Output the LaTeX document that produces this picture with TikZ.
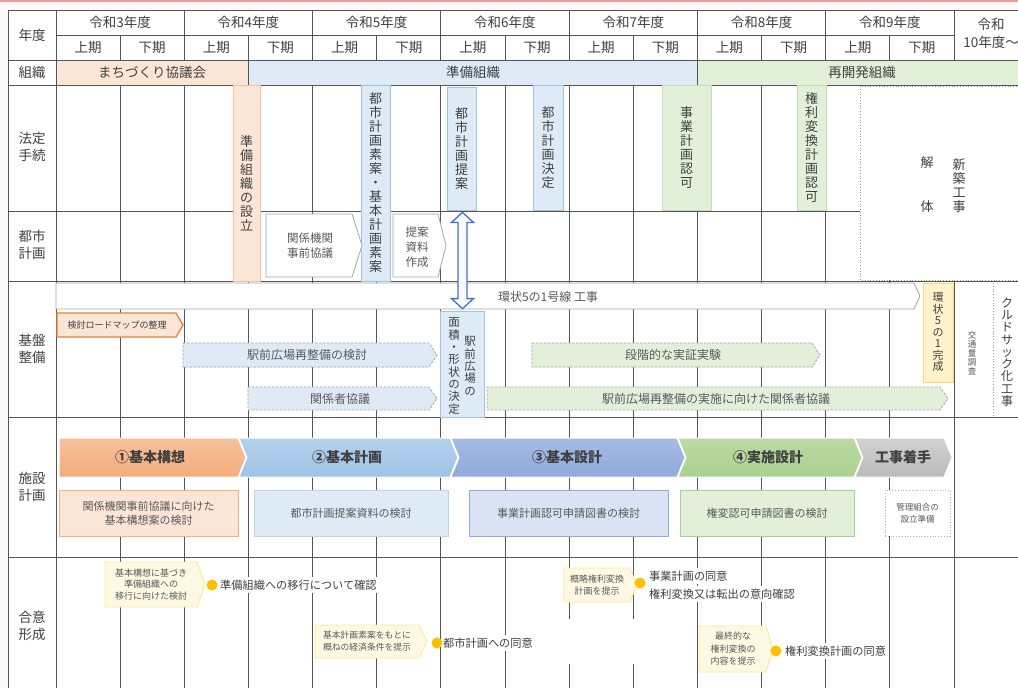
\documentclass[tikz,border=0pt]{standalone}
\usepackage{fontspec}
\setmainfont{Noto Sans CJK JP}
\usetikzlibrary{calc}
\definecolor{txt}{HTML}{404040}
\definecolor{txtl}{HTML}{595959}
\definecolor{grid}{HTML}{555555}
\definecolor{peach}{HTML}{FBE5D6}
\definecolor{peachB}{HTML}{F4B183}
\definecolor{lblue}{HTML}{DEEBF7}
\definecolor{lblueB}{HTML}{9DC3E6}
\definecolor{lgreen}{HTML}{E2F0D9}
\definecolor{lgreenB}{HTML}{A9D18E}
\definecolor{lyel}{HTML}{FFF2CC}
\definecolor{yelB}{HTML}{FFD966}
\definecolor{orangeB}{HTML}{ED7D31}
\definecolor{purp}{HTML}{DAE3F3}
\definecolor{purpB}{HTML}{8FAADC}
\definecolor{callF}{HTML}{FFF8E3}
\definecolor{callB}{HTML}{FFE699}
\definecolor{gold}{HTML}{FFC000}
\definecolor{bgc}{HTML}{FDF9F6}
\definecolor{topred}{HTML}{F29C9C}
\definecolor{arrB}{HTML}{4472C4}
\newcommand\boxnode[6]{\node[#1, minimum width={#4-#2}, minimum height={#5-#3}] (#6) at ({(#2+#4)/2},{(#3+#5)/2})}
\newcommand\pent[6]{\draw[#1] (#2,#3) -- ({#4-#6},#3) -- (#4,{(#3+#5)/2}) -- ({#4-#6},#5) -- (#2,#5) -- cycle;}
\newcommand\chev[6]{\draw[#1] (#2,#3) -- ({#4-#6},#3) -- (#4,{(#3+#5)/2}) -- ({#4-#6},#5) -- (#2,#5) -- ({#2+#6},{(#3+#5)/2}) -- cycle;}
\begin{document}
\begin{tikzpicture}[x=1pt,y=-1pt,
  every node/.style={text=txt, inner sep=0pt},
  gl/.style={draw=grid, line width=0.9pt},
  hdr/.style={font=\fontsize{13.5}{16}\selectfont},
  lbl/.style={font=\fontsize{13.5}{16.5}\selectfont, align=center},
  vt/.style={font=\fontsize{13}{14}\selectfont, align=center},
  pbar/.style={fill=peach, draw=peachB!80, line width=0.8pt, vt},
  bbar/.style={fill=lblue, draw=lblueB, line width=0.8pt, vt},
  gbar/.style={fill=lgreen, draw=lgreenB!70, line width=0.8pt, vt},
  ybar/.style={fill=lyel, draw=yelB, line width=0.8pt, align=center, font=\fontsize{11}{11.5}\selectfont},
  wbox/.style={fill=white, draw=black!35, line width=0.8pt},
  orarr/.style={fill=peach, draw=orangeB, line width=1.3pt},
  bdash/.style={fill=lblue, draw=black!35, line width=0.8pt, dash pattern=on 2.5pt off 1.5pt},
  gdash/.style={fill=lgreen, draw=black!35, line width=0.8pt, dash pattern=on 2.5pt off 1.5pt},
  mtxt/.style={font=\fontsize{11.5}{15}\selectfont, align=center, text=txtl},
  btxt/.style={font=\fontsize{12}{14}\selectfont, text=txtl},
  chtxt/.style={font=\fontsize{14}{16}\selectfont\bfseries},
  sbox/.style={line width=0.8pt, align=center, font=\fontsize{11}{14}\selectfont, text=txtl},
  callst/.style={fill=callF, draw=callB, line width=0.8pt},
  ctxt/.style={font=\fontsize{9}{11.5}\selectfont, align=center, text=txtl},
  stxt/.style={font=\fontsize{11.2}{14}\selectfont, anchor=west, fill=white, inner ysep=3pt},
  dot/.style={circle, fill=gold, minimum size=11pt},
  dblarr/.style={draw=arrB, line width=1.3pt, fill=white!85!arrB!25}
]
\useasboundingbox (0,0) rectangle (1018,688);
\clip (0,0) rectangle (1018,688);
% background
\fill[bgc] (0,0) rectangle (1018,688);
\fill[topred] (0,0) rectangle (1018,1.8);
\fill[white] (8,10) rectangle (1018,688);
% organisation fills
\fill[peach] (56,60) rectangle (248.4,85);
\fill[lblue] (248.4,60) rectangle (697.4,85);
\fill[lgreen] (697.4,60) rectangle (1018,85);
% horizontal lines
\draw[gl] (8,10) -- (1018,10);
\draw[gl] (56,35) -- (954,35);
\draw[gl] (8,60) -- (1018,60);
\draw[gl] (8,85) -- (1018,85);
\draw[gl] (8,211) -- (860,211);
\draw[gl] (8,281) -- (1018,281);
\draw[gl] (8,417) -- (1018,417);
\draw[gl] (8,557) -- (1018,557);
% vertical lines
\draw[gl] (8,10) -- (8,688);
\draw[gl] (56,10) -- (56,688);
\foreach \i in {2,4,...,14} \draw[gl] ({56+64.14*\i},10) -- ({56+64.14*\i},60);
\foreach \i in {1,3,...,13} \draw[gl] ({56+64.14*\i},35) -- ({56+64.14*\i},60);
\draw[gl] (248.4,60) -- (248.4,85);
\draw[gl] (697.4,60) -- (697.4,85);
\foreach \i in {1,...,14} \draw[gl] ({56+64.14*\i},85) -- ({56+64.14*\i},688);
% gap in lines (consensus row)
\fill[white] (562,619) rectangle (641,664);
% dotted area (demolition / construction)
\draw[black!40, dotted, line width=0.8pt, fill=white] (860,86) rectangle (1030,280);
% header texts
\node[lbl] (lnendo) at (32,35) {年度};
\foreach \n/\i in {3/0,4/1,5/2,6/3,7/4,8/5,9/6}
  \node[hdr] (y\n) at ({56+64.14*(2*\i+1)},22.5) {令和\n 年度};
\foreach \i in {0,...,13}
  \node[hdr] (h\i) at ({56+64.14*(\i+0.5)},47.5) {\ifodd\i 下期\else 上期\fi};
\node[hdr, align=center, font=\fontsize{13.5}{18}\selectfont] (y10) at (991,33) {令和\\10年度～};
% row labels
\node[lbl] (lsoshiki) at (32,72.5) {組織};
\node[lbl] (lhotei) at (32,147) {法定\\手続};
\node[lbl] (ltoshi) at (32,245) {都市\\計画};
\node[lbl] (lkiban) at (32,349) {基盤\\整備};
\node[lbl] (lshisetsu) at (32,487) {施設\\計画};
\node[lbl] (lgoi) at (32,626) {合意\\形成};
% organisation texts
\node[hdr] (o1) at (152,72.5) {まちづくり協議会};
\node[hdr] (o2) at (473,72.5) {準備組織};
\node[hdr] (o3) at (862,72.5) {再開発組織};
% statutory procedure bars
\boxnode{pbar}{233}{85}{260}{281}{setsu} {準\\備\\組\\織\\の\\設\\立};
\boxnode{bbar}{361}{85}{390}{281}{soan} {都\\市\\計\\画\\素\\案\\・\\基\\本\\計\\画\\素\\案};
\boxnode{bbar}{447}{87}{476}{210}{teian} {都\\市\\計\\画\\提\\案};
\boxnode{bbar}{533}{85}{563}{210}{kettei} {都\\市\\計\\画\\決\\定};
\boxnode{gbar}{662}{85}{711}{210}{jigyo} {事\\業\\計\\画\\認\\可};
\boxnode{gbar}{797}{85}{826}{210}{kenri} {権\\利\\変\\換\\計\\画\\認\\可};
\node[vt, font=\fontsize{13}{44}\selectfont] (kaitai) at (927,185) {解\\体};
\node[vt] (shinchiku) at (959,186) {新\\築\\工\\事};
% city planning row
\pent{wbox}{266}{214}{362}{277}{10}
\node[mtxt] (kankei) at (310,246) {関係機関\\事前協議};
\pent{wbox}{393}{214}{446}{277}{8}
\node[mtxt] (shiryo) at (417,247) {提案\\資料\\作成};
% infrastructure row
\pent{wbox}{56}{283}{920}{309}{6}
\node[btxt] (kanjo5) at (548,297) {環状5の1号線 工事};
\pent{orarr}{57}{313}{183}{337}{7}
\node[font=\fontsize{9}{10}\selectfont] (roadmap) at (117,325) {検討ロードマップの整理};
\pent{bdash}{183}{343}{437}{367}{8}
\node[btxt] (ekimae) at (307,355) {駅前広場再整備の検討};
\pent{bdash}{248}{387}{437}{410}{8}
\node[btxt] (kankeisha) at (340,398.5) {関係者協議};
\pent{gdash}{532}{343}{820}{367}{8}
\node[btxt] (dankai) at (673,355) {段階的な実証実験};
\pent{gdash}{487}{387}{948}{410}{8}
\node[btxt] (jisshi) at (716,398.5) {駅前広場再整備の実施に向けた関係者協議};
\boxnode{bbar}{440}{311}{484}{417}{men} {};
\node[align=center, font=\fontsize{11.5}{12.3}\selectfont] (men1) at (470,366) {駅\\前\\広\\場\\の};
\node[align=center, font=\fontsize{11.5}{12.3}\selectfont] (men2) at (454,366) {面\\積\\・\\形\\状\\の\\決\\定};
\boxnode{ybar}{923}{283}{953}{382}{kansei} {環\\状\\5\\の\\1\\完\\成};
\draw[black!40, dotted, line width=0.8pt] (993,283) -- (993,415);
\node[align=center, font=\fontsize{8.5}{9}\selectfont, text=txtl] (kotsu) at (972,353) {交\\通\\量\\調\\査};
\node[align=center, font=\fontsize{12}{12.3}\selectfont] (culdesac) at (1007,352) {ク\\ル\\ド\\サ\\ッ\\ク\\化\\工\\事};
% facility planning row: chevrons
\pent{top color=peachB!80, bottom color=peachB!90!orangeB, draw=white, line width=1pt}{59}{438}{246}{477}{8}
\chev{top color=lblueB!75, bottom color=lblueB, draw=white, line width=1pt}{239}{438}{458}{477}{8}
\chev{top color=purpB!80, bottom color=purpB, draw=white, line width=1pt}{451}{438}{685}{477}{8}
\chev{top color=lgreenB!80, bottom color=lgreenB, draw=white, line width=1pt}{678}{438}{862}{477}{8}
\chev{top color=black!18, bottom color=black!27, draw=white, line width=1pt}{855}{438}{952}{477}{8}
\node[chtxt] (k1) at (150,457.5) {①基本構想};
\node[chtxt] (k2) at (347,457.5) {②基本計画};
\node[chtxt] (k3) at (567,457.5) {③基本設計};
\node[chtxt] (k4) at (768,457.5) {④実施設計};
\node[chtxt] (k5) at (903,457.5) {工事着手};
% facility planning row: boxes
\boxnode{sbox, fill=peach, draw=peachB}{59}{490}{238}{536}{b1} {関係機関事前協議に向けた\\基本構想案の検討};
\boxnode{sbox, fill=lblue, draw=lblueB!70}{254}{490}{448}{536}{b2} {都市計画提案資料の検討};
\boxnode{sbox, fill=purp, draw=purpB}{469}{490}{668}{536}{b3} {事業計画認可申請図書の検討};
\boxnode{sbox, fill=lgreen, draw=lgreenB}{680}{490}{854}{536}{b4} {権変認可申請図書の検討};
\boxnode{sbox, fill=white, draw=black!30, dotted, font=\fontsize{8.5}{12}\selectfont}{885}{490}{950}{536}{b5} {管理組合の\\設立準備};
% consensus row
\pent{callst}{105}{562}{205}{607}{8}
\node[ctxt] (c1t) at (151,584.5) {基本構想に基づき\\準備組織への\\移行に向けた検討};
\pent{callst}{315}{625}{427}{658}{8}
\node[ctxt, font=\fontsize{8.8}{12}\selectfont] (c2t) at (367,641.5) {基本計画素案をもとに\\概ねの経済条件を提示};
\pent{callst}{564}{568}{637}{602}{7}
\node[ctxt, font=\fontsize{9}{12}\selectfont] (c3t) at (597,585) {概略権利変換\\計画を提示};
\pent{callst}{699}{626}{773}{672}{7}
\node[ctxt, font=\fontsize{9}{12.5}\selectfont] (c4t) at (733,649) {最終的な\\権利変換の\\内容を提示};
\node[stxt] (s1) at (220,585) {準備組織への移行について確認};
\node[stxt] (s2) at (443,643) {都市計画への同意};
\node[stxt] (s3a) at (649,576) {事業計画の同意};
\node[stxt] (s3b) at (649,594) {権利変換又は転出の意向確認};
\node[stxt] (s4) at (785,651) {権利変換計画の同意};
\node[dot] (d1) at (212,585) {};
\node[dot] (d2) at (437,643) {};
\node[dot] (d3) at (640,583) {};
\node[dot] (d4) at (776,651) {};
% double arrow between proposal and plaza decision
\coordinate (dA) at ($(teian.south)+(1,2)$);
\coordinate (dB) at ($(men.north)+(0.5,-2)$);
\draw[dblarr] (dA) -- ++(11,10) -- ++(-6.5,0) -- ($(dB)+(4.5,-10)$) -- ++(6.5,0) -- (dB)
  -- ++(-11,-10) -- ++(6.5,0) -- ($(dA)+(-4.5,10)$) -- ++(-6.5,0) -- cycle;
\end{tikzpicture}
\end{document}
